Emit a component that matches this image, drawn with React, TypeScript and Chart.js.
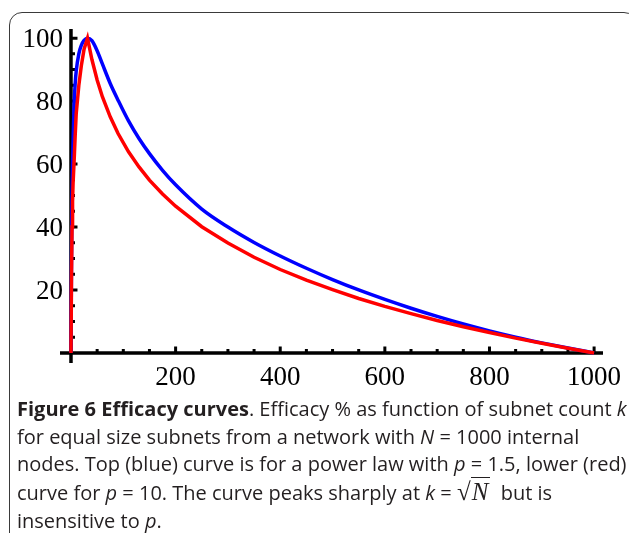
import React, { useEffect, useRef } from "react";
import { Chart, registerables } from "chart.js";

Chart.register(...registerables);

// subnet count k
const kValues = [0, 1, 2, 3, 4, 6, 8, 10, 15, 20, 25, 31.6, 40, 50, 60, 75, 90, 110, 130, 150, 175, 200, 250, 300, 350, 400, 450, 500, 550, 600, 650, 700, 750, 800, 850, 900, 950, 1000];
// efficacy %, power law p = 1.5 (blue, top)
const blueEfficacy = [0, 30, 50, 60, 67, 79, 85.5, 89.5, 95, 97.8, 99.3, 100, 99.2, 96, 91.8, 85.6, 80.3, 73.7, 68.1, 63.3, 58, 53.4, 45.7, 40, 35.1, 30.8, 26.9, 23.3, 20, 17, 14.2, 11.6, 9.2, 7, 5, 3.2, 1.55, 0];
// efficacy %, power law p = 10 (red, lower)
const redEfficacy = [0, 25, 40, 48, 54, 61, 69, 76, 85, 91.5, 96.5, 100, 93.2, 86.7, 81.4, 75, 69.7, 63.9, 59.1, 54.9, 50.5, 46.6, 40.1, 34.9, 30.4, 26.5, 23.1, 20.1, 17.3, 14.8, 12.5, 10.3, 8.3, 6.5, 4.7, 3.1, 1.5, 0];

const xTickLabels = [200, 400, 600, 800, 1000];
const yTickLabels = [20, 40, 60, 80, 100];
const xMinorStep = 50;
const yMinorStep = 5;

const mathAxes = {
  id: "mathAxes",
  beforeDatasetsDraw(chart: any) {
    const { ctx, chartArea, scales } = chart;
    const x = scales.x;
    const y = scales.y;
    const x0 = x.getPixelForValue(0);
    const y0 = y.getPixelForValue(0);
    ctx.save();
    ctx.strokeStyle = "#000";
    ctx.lineCap = "butt";
    ctx.lineWidth = 3.5;
    ctx.beginPath();
    ctx.moveTo(chartArea.left, y0);
    ctx.lineTo(chartArea.right, y0);
    ctx.moveTo(x0, chartArea.top);
    ctx.lineTo(x0, chartArea.bottom);
    ctx.stroke();

    ctx.lineWidth = 3;
    ctx.beginPath();
    for (let v = xMinorStep; v <= 1000; v += xMinorStep) {
      const px = x.getPixelForValue(v);
      const len = xTickLabels.includes(v) ? 6.5 : 4;
      ctx.moveTo(px, y0);
      ctx.lineTo(px, y0 - len);
    }
    for (let v = yMinorStep; v <= 100; v += yMinorStep) {
      const py = y.getPixelForValue(v);
      const len = yTickLabels.includes(v) ? 6.5 : 4;
      ctx.moveTo(x0, py);
      ctx.lineTo(x0 + len, py);
    }
    ctx.stroke();

    ctx.fillStyle = "#000";
    ctx.font = '27px "Liberation Serif", "Times New Roman", serif';
    ctx.textBaseline = "alphabetic";
    ctx.textAlign = "center";
    for (const v of xTickLabels) {
      ctx.fillText(String(v), x.getPixelForValue(v), y0 + 32);
    }
    ctx.textAlign = "right";
    for (const v of yTickLabels) {
      ctx.fillText(String(v), x0 - 8, y.getPixelForValue(v) + 9);
    }
    ctx.restore();
  },
};

function EfficacyChart() {
  const ref = useRef<HTMLCanvasElement | null>(null);
  useEffect(() => {
    if (!ref.current) return;
    const chart = new Chart(ref.current, {
      type: "line",
      data: {
        datasets: [
          {
            label: "p = 10",
            data: kValues.map((k, i) => ({ x: k, y: redEfficacy[i] })),
            borderColor: "#ff0000",
            borderWidth: 3.5,
            pointRadius: 0,
            tension: 0,
            fill: false,
          },
          {
            label: "p = 1.5",
            data: kValues.map((k, i) => ({ x: k, y: blueEfficacy[i] })),
            borderColor: "#0000ff",
            borderWidth: 3.5,
            pointRadius: 0,
            cubicInterpolationMode: "monotone",
            fill: false,
          },
        ],
      },
      options: {
        responsive: false,
        animation: false,
        devicePixelRatio: 1,
        layout: { padding: { left: 60, top: 29, right: 26, bottom: 37 } },
        plugins: { legend: { display: false }, tooltip: { enabled: false } },
        scales: {
          x: { type: "linear", min: -21, max: 1017, display: false },
          y: { type: "linear", min: -3.2, max: 102.9, display: false },
        },
      },
      plugins: [mathAxes],
    } as any);
    return () => chart.destroy();
  }, []);
  return <canvas ref={ref} width={629} height={400} style={{ position: "absolute", left: 0, top: 0 }} />;
}

export default function App() {
  const it: React.CSSProperties = { fontStyle: "italic" };
  return (
    <div style={{ position: "absolute", left: 0, top: 0, width: 629, height: 533, overflow: "hidden", background: "#fff" }}>
      <div
        style={{
          position: "absolute",
          left: 9,
          top: 12,
          width: 628,
          height: 600,
          border: "1.5px solid #3a3a3a",
          borderRadius: 13,
          boxSizing: "border-box",
        }}
      />
      <EfficacyChart />
      <div
        style={{
          position: "absolute",
          left: 17,
          top: 395,
          fontFamily: '"Open Sans", sans-serif',
          fontSize: 20,
          lineHeight: "27.7px",
          color: "#231f20",
          whiteSpace: "nowrap",
        }}
      >
        <div>
          <b>Figure 6 Efficacy curves</b>. Efficacy % as function of subnet count <span style={it}>k</span>
        </div>
        <div>
          for equal size subnets from a network with <span style={it}>N</span> = 1000 internal
        </div>
        <div>
          nodes. Top (blue) curve is for a power law with <span style={it}>p</span> = 1.5, lower (red)
        </div>
        <div>
          curve for <span style={it}>p</span> = 10. The curve peaks sharply at <span style={it}>k</span> ={" "}
          <span style={{ fontFamily: '"Liberation Serif", serif', fontSize: 25 }}>
            √<span style={{ fontStyle: "italic", borderTop: "1.5px solid #231f20", paddingLeft: 1, paddingRight: 2 }}>N</span>
          </span>
          &nbsp; but is
        </div>
        <div>
          insensitive to <span style={it}>p</span>.
        </div>
      </div>
    </div>
  );
}
